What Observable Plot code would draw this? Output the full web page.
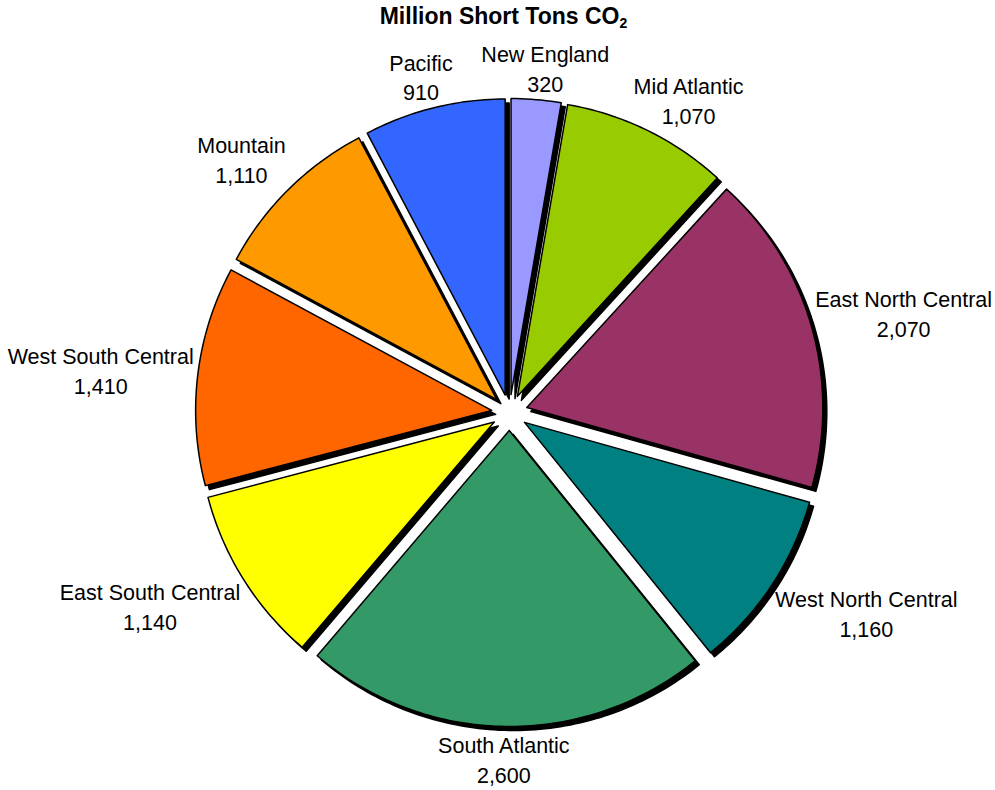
<!DOCTYPE html>
<html>
<head>
<meta charset="utf-8">
<script src="https://cdn.jsdelivr.net/npm/d3@7"></script>
<script src="https://cdn.jsdelivr.net/npm/@observablehq/plot@0.6"></script>
<style>
  body { margin: 0; background: #fff; font-family: "Liberation Sans", Arial, sans-serif; }
  #title { width: 995px; height: 33px; line-height: 33px; padding-left: 12px; box-sizing: border-box;
           text-align: center; font-weight: bold; font-size: 23px; color: #000; }
  #title sub { font-size: 14px; vertical-align: -4px; line-height: 0; }
  #chart svg { display: block; }
</style>
</head>
<body>
<div id="title">Million Short Tons CO<sub>2</sub></div>
<div id="chart"></div>
<script>
// Census divisions, clockwise from 12 o'clock
const regions = ["New England", "Mid Atlantic", "East North Central", "West North Central",
  "South Atlantic", "East South Central", "West South Central", "Mountain", "Pacific"];
// Emissions, million short tons CO2
const emissions = [320, 1070, 2070, 1160, 2600, 1140, 1410, 1110, 910];
const sliceColors = ["#9999FF", "#99CC00", "#993366", "#008080", "#339966",
  "#FFFF00", "#FF6600", "#FF9900", "#3366FF"];

// Pie layout: the unit circle is mapped onto the page by the x/y scales
const width = 995, height = 757;
const cx = 509, cy = 379, radius = 296;
const explode = 18 / radius;        // each slice pulled out along its bisector
const labelFont = 21.5, lineGap = 30;
const labelRadius = 318 / radius;   // where a label box touches its slice's bisector

const arcs = d3.pie().sort(null).value(d => d)(emissions);

// Closed outline of every slice: apex, arc, back to apex
const outline = arcs.flatMap((a, i) => {
  const mid = (a.startAngle + a.endAngle) / 2;
  const ox = explode * Math.sin(mid), oy = explode * Math.cos(mid);
  const n = Math.max(2, Math.ceil((a.endAngle - a.startAngle) / (Math.PI / 180)));
  const pts = [{region: regions[i], x: ox, y: oy}];
  for (let k = 0; k <= n; k++) {
    const t = a.startAngle + (a.endAngle - a.startAngle) * k / n;
    pts.push({region: regions[i], x: ox + Math.sin(t), y: oy + Math.cos(t)});
  }
  pts.push({region: regions[i], x: ox, y: oy});
  return pts;
});

// Label boxes hang outside the pie: anchored on the bisector, pushed away by their own size
const ctx = document.createElement("canvas").getContext("2d");
ctx.font = `${labelFont}px "Liberation Sans", Arial, sans-serif`;
const fmt = d3.format(",");
const clamp = v => Math.max(-1, Math.min(1, v));
const labels = arcs.map((a, i) => {
  const mid = (a.startAngle + a.endAngle) / 2;
  const lines = [regions[i], fmt(emissions[i])];
  const w = d3.max(lines, s => ctx.measureText(s).width);
  const h = lineGap + labelFont * 1.2;
  const s = Math.sin(mid), c = Math.cos(mid);
  return {
    text: lines.join("\n"),
    x: labelRadius * s + (w / 2 / radius) * clamp(1.6 * s),
    y: labelRadius * c + (h / 2 / radius) * clamp(1.6 * c)
  };
});

const chart = Plot.plot({
  width, height,
  margin: 0,
  style: {fontFamily: '"Liberation Sans", Arial, sans-serif', background: "#fff", color: "#000"},
  x: {domain: [-1, 1], range: [cx - radius, cx + radius], axis: null},
  y: {domain: [-1, 1], range: [cy + radius, cy - radius], axis: null},
  color: {domain: regions, range: sliceColors},
  marks: [
    // drop shadow
    Plot.line(outline, {x: "x", y: "y", z: "region", fill: "#000", stroke: "#000",
      strokeWidth: 1.5, strokeLinejoin: "round", dx: 4, dy: 4}),
    // slices
    Plot.line(outline, {x: "x", y: "y", z: "region", fill: "region", stroke: "#000",
      strokeWidth: 1.5, strokeLinejoin: "round"}),
    Plot.text(labels, {x: "x", y: "y", text: "text", fontSize: labelFont,
      lineHeight: lineGap / labelFont, fill: "#000"})
  ]
});
document.getElementById("chart").append(chart);
</script>
</body>
</html>
